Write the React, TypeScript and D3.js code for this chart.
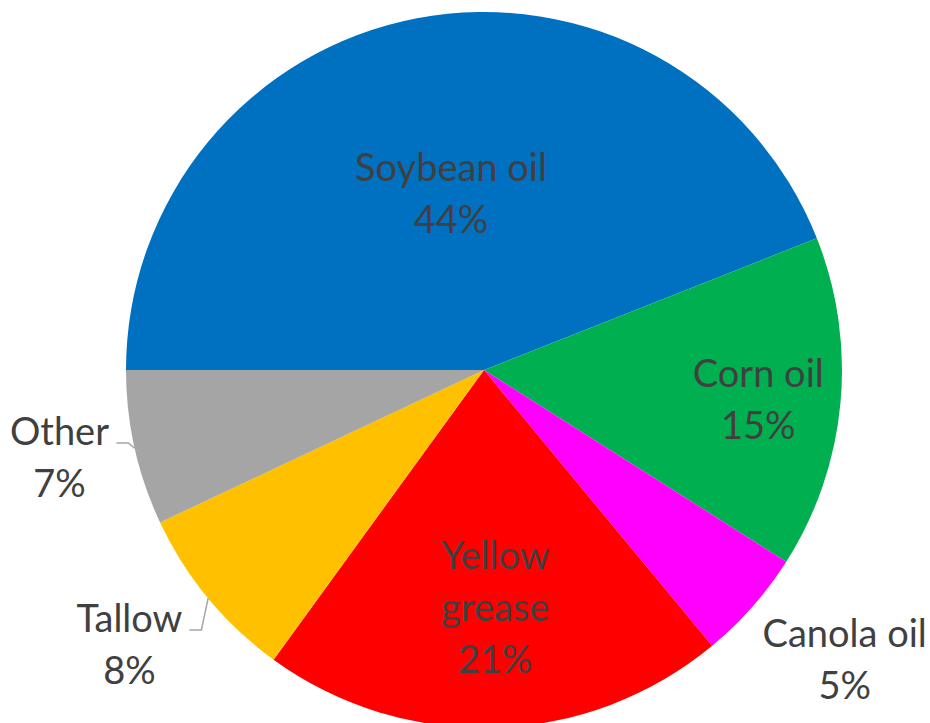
import React from "react";
import * as d3 from "d3";

const categories = ["Soybean oil", "Corn oil", "Canola oil", "Yellow grease", "Tallow", "Other"];
const values = [44, 15, 5, 21, 8, 7];
const colors = ["#0070C0", "#00B050", "#FF00FF", "#FF0000", "#FFC000", "#A5A5A5"];
// label layout: name lines, radius factor relative to pie radius, whether outside with leader
const labelLines = [["Soybean oil"], ["Corn oil"], ["Canola oil"], ["Yellow", "grease"], ["Tallow"], ["Other"]];
const labelRadius = [0.505, 0.77, 1.29, 0.66, 1.25, 1.21];
const labelAngleShift = [0.005, 0.007, -0.048, -0.016, 0.035, 0.02];

const W = 930, H = 723;
const cx = 484, cy = 370, R = 358;
const FONT = 38;
const LINE = 52;

export default function App() {
  const data = categories.map((c, i) => ({ name: c, value: values[i], i }));
  const pie = d3.pie<any>().sort(null).value((d: any) => d.value)
    .startAngle(-Math.PI / 2).endAngle(Math.PI * 1.5);
  const arcs = pie(data);
  const arc = d3.arc<any>().innerRadius(0).outerRadius(R);

  return (
    <svg width={W} height={H} style={{ position: "absolute", left: 0, top: 0, background: "#fff" }}>
      <g transform={`translate(${cx},${cy})`}>
        {arcs.map((a, i) => (
          <path key={i} d={arc(a) as string} fill={colors[i]} />
        ))}
        {arcs.map((a, i) => {
          const mid = (a.startAngle + a.endAngle) / 2 + labelAngleShift[i];
          const r = R * labelRadius[i];
          const x = Math.sin(mid) * r;
          const y = -Math.cos(mid) * r;
          const lines = [...labelLines[i], `${values[i]}%`];
          const n = lines.length;
          return (
            <text key={i} x={x} y={y} textAnchor="middle" fontFamily="Lato, 'Open Sans', sans-serif"
              fontSize={FONT} fill="#404040">
              {lines.map((l, j) => (
                <tspan key={j} x={x} y={y + (j - (n - 1) / 2) * LINE} dominantBaseline="central">{l}</tspan>
              ))}
            </text>
          );
        })}
        {arcs.map((a, i) => {
          if (labelRadius[i] < 1 || i === 2) return null;
          const mid = (a.startAngle + a.endAngle) / 2;
          const ex = Math.sin(mid) * R;
          const ey = -Math.cos(mid) * R;
          const lmid = mid + labelAngleShift[i];
          const lx = Math.sin(lmid) * R * labelRadius[i];
          const ly = -Math.cos(lmid) * R * labelRadius[i];
          const n = labelLines[i].length + 1;
          const topLineY = ly - ((n - 1) / 2) * LINE;
          const halfW = i === 4 ? 60 : 57;
          const sx = lx + halfW;
          const sy = topLineY + 13;
          return (
            <polyline key={"l" + i} points={`${sx},${sy} ${sx + 12},${sy} ${ex},${ey}`}
              fill="none" stroke="#A6A6A6" strokeWidth={1.5} />
          );
        })}
      </g>
    </svg>
  );
}
